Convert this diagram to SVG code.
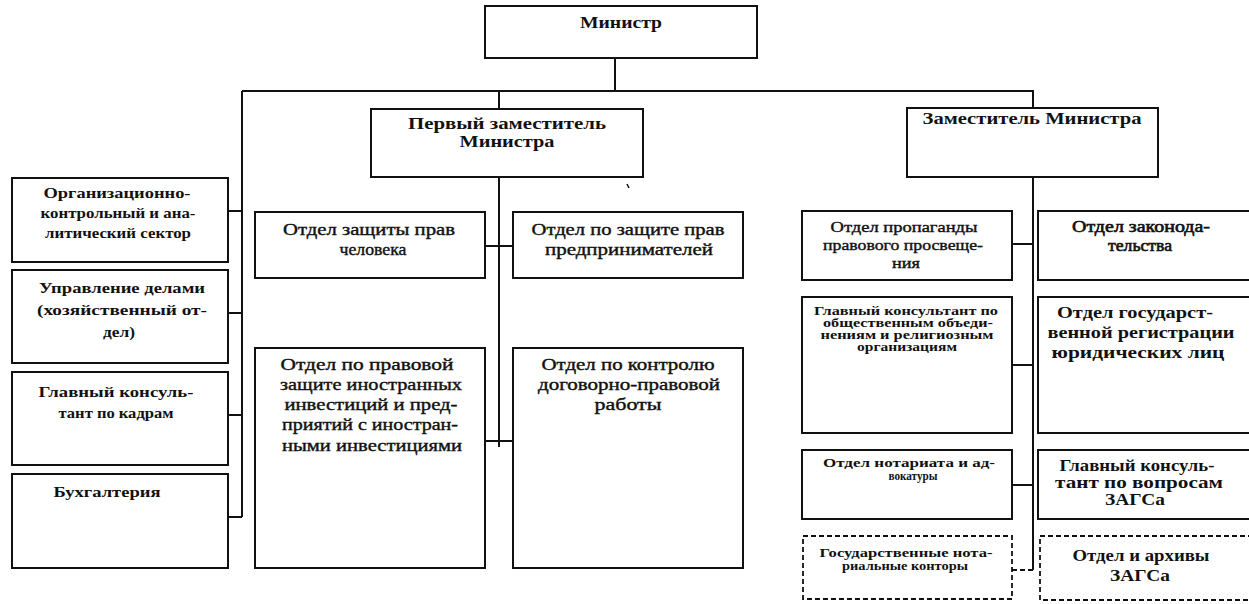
<svg xmlns="http://www.w3.org/2000/svg" width="1249" height="604" viewBox="0 0 1249 604">
<style>
.box{fill:#fff;stroke:#111;stroke-width:2}
.dbox{fill:#fff;stroke:#111;stroke-width:1.8;stroke-dasharray:5 3}
.ln{fill:none;stroke:#111;stroke-width:2}
.dln{fill:none;stroke:#111;stroke-width:1.8;stroke-dasharray:5 3}
text{font-family:"Liberation Serif","DejaVu Serif",serif;fill:#111;text-anchor:middle}
.h{font-size:16px;font-weight:bold}
.b{font-size:15px;font-weight:bold}
.m{font-size:17px;stroke:#111;stroke-width:0.4}
.r{font-size:15px;stroke:#111;stroke-width:0.4}
.rl{font-size:16px;stroke:#111;stroke-width:0.6}
.rb{font-size:17px;font-weight:bold}
.s{font-size:12px;font-weight:bold}
</style>
<rect width="1249" height="604" fill="#fff"/>
<g id="connectors">
<path class="ln" d="M615 58V91M242 91H1033V108M499 91V109M242 91V517M228 211H242M228 313H242M228 415H242M228 517H242"/>
<path class="ln" d="M499 177V447M485 246H513M485 441H513"/>
<path class="ln" d="M1033 177V570M1012 244H1033M1012 365H1033M1012 485H1033"/>
<path class="dln" d="M1012 570H1033"/>
<path d="M627 184l2 4" stroke="#111" stroke-width="1.5"/>
</g>
<g id="minister"><rect class="box" x="485" y="6" width="272" height="52"/><text class="h" x="621" y="28" textLength="82" lengthAdjust="spacingAndGlyphs">Министр</text></g>
<g id="first-deputy"><rect class="box" x="371" y="109" width="272" height="68"/><text class="h" x="507" y="129" textLength="198" lengthAdjust="spacingAndGlyphs">Первый заместитель</text><text class="h" x="507" y="147" textLength="95" lengthAdjust="spacingAndGlyphs">Министра</text></g>
<g id="deputy"><rect class="box" x="907" y="108" width="251" height="69"/><text class="h" x="1032" y="124" textLength="219" lengthAdjust="spacingAndGlyphs">Заместитель Министра</text></g>
<g id="org-sector"><rect class="box" x="12" y="178" width="216" height="84"/><text class="b" x="117" y="198" textLength="147" lengthAdjust="spacingAndGlyphs">Организационно-</text><text class="b" x="118" y="218" textLength="155" lengthAdjust="spacingAndGlyphs">контрольный и ана-</text><text class="b" x="118" y="238" textLength="146" lengthAdjust="spacingAndGlyphs">литический сектор</text></g>
<g id="affairs"><rect class="box" x="12" y="270" width="216" height="93"/><text class="b" x="122" y="293" textLength="166" lengthAdjust="spacingAndGlyphs">Управление делами</text><text class="b" x="122" y="315" textLength="170" lengthAdjust="spacingAndGlyphs">(хозяйственный от-</text><text class="b" x="119" y="337" textLength="32" lengthAdjust="spacingAndGlyphs">дел)</text></g>
<g id="hr"><rect class="box" x="12" y="372" width="216" height="93"/><text class="b" x="116" y="397" textLength="155" lengthAdjust="spacingAndGlyphs">Главный консуль-</text><text class="b" x="116" y="418" textLength="115" lengthAdjust="spacingAndGlyphs">тант по кадрам</text></g>
<g id="accounting"><rect class="box" x="12" y="474" width="216" height="94"/><text class="b" x="107" y="497" textLength="107" lengthAdjust="spacingAndGlyphs">Бухгалтерия</text></g>
<g id="human-rights"><rect class="box" x="255" y="212" width="230" height="66"/><text class="m" x="369" y="235" textLength="172" lengthAdjust="spacingAndGlyphs">Отдел защиты прав</text><text class="m" x="373" y="255" textLength="67" lengthAdjust="spacingAndGlyphs">человека</text></g>
<g id="entrepreneurs"><rect class="box" x="513" y="212" width="230" height="66"/><text class="m" x="628" y="235" textLength="193" lengthAdjust="spacingAndGlyphs">Отдел по защите прав</text><text class="m" x="629" y="255" textLength="168" lengthAdjust="spacingAndGlyphs">предпринимателей</text></g>
<g id="foreign-invest"><rect class="box" x="255" y="348" width="230" height="220"/><text class="m" x="367" y="370" textLength="173" lengthAdjust="spacingAndGlyphs">Отдел по правовой</text><text class="m" x="371" y="390" textLength="182" lengthAdjust="spacingAndGlyphs">защите иностранных</text><text class="m" x="371" y="410" textLength="173" lengthAdjust="spacingAndGlyphs">инвестиций и пред-</text><text class="m" x="370" y="430" textLength="176" lengthAdjust="spacingAndGlyphs">приятий с иностран-</text><text class="m" x="372" y="451" textLength="180" lengthAdjust="spacingAndGlyphs">ными инвестициями</text></g>
<g id="contract-control"><rect class="box" x="513" y="348" width="230" height="220"/><text class="m" x="628" y="370" textLength="173" lengthAdjust="spacingAndGlyphs">Отдел по контролю</text><text class="m" x="629" y="390" textLength="182" lengthAdjust="spacingAndGlyphs">договорно-правовой</text><text class="m" x="628" y="410" textLength="67" lengthAdjust="spacingAndGlyphs">работы</text></g>
<g id="propaganda"><rect class="box" x="802" y="211" width="210" height="69"/><text class="r" x="904" y="232" textLength="147" lengthAdjust="spacingAndGlyphs">Отдел пропаганды</text><text class="r" x="903" y="250" textLength="160" lengthAdjust="spacingAndGlyphs">правового просвеще-</text><text class="r" x="906" y="268" textLength="28" lengthAdjust="spacingAndGlyphs">ния</text></g>
<g id="legislation"><rect class="box" x="1038" y="211" width="214" height="69"/><text class="rl" x="1141" y="232" textLength="138" lengthAdjust="spacingAndGlyphs">Отдел законода-</text><text class="rl" x="1140" y="251" textLength="64" lengthAdjust="spacingAndGlyphs">тельства</text></g>
<g id="religious"><rect class="box" x="802" y="297" width="210" height="136"/><text class="s" x="906" y="315" textLength="184" lengthAdjust="spacingAndGlyphs">Главный консультант по</text><text class="s" x="908" y="327" textLength="170" lengthAdjust="spacingAndGlyphs">общественным объеди-</text><text class="s" x="907" y="339" textLength="173" lengthAdjust="spacingAndGlyphs">нениям и религиозным</text><text class="s" x="907" y="351" textLength="100" lengthAdjust="spacingAndGlyphs">организациям</text></g>
<g id="registration"><rect class="box" x="1038" y="297" width="214" height="136"/><text class="rb" x="1135" y="318" textLength="156" lengthAdjust="spacingAndGlyphs">Отдел государст-</text><text class="rb" x="1141" y="338" textLength="187" lengthAdjust="spacingAndGlyphs">венной регистрации</text><text class="rb" x="1138" y="358" textLength="173" lengthAdjust="spacingAndGlyphs">юридических лиц</text></g>
<g id="notary"><rect class="box" x="802" y="450" width="210" height="69"/><text class="s" x="909" y="467" textLength="172" lengthAdjust="spacingAndGlyphs">Отдел нотариата и ад-</text><text class="s" x="913" y="480" textLength="49" lengthAdjust="spacingAndGlyphs">вокатуры</text></g>
<g id="zags-consultant"><rect class="box" x="1038" y="450" width="214" height="69"/><text class="rb" x="1137" y="471" textLength="155" lengthAdjust="spacingAndGlyphs">Главный консуль-</text><text class="rb" x="1139" y="488" textLength="168" lengthAdjust="spacingAndGlyphs">тант по вопросам</text><text class="rb" x="1135" y="505" textLength="60" lengthAdjust="spacingAndGlyphs">ЗАГСа</text></g>
<g id="state-notary"><rect class="dbox" x="803" y="536" width="209" height="63"/><text class="s" x="906" y="557" textLength="173" lengthAdjust="spacingAndGlyphs">Государственные нота-</text><text class="s" x="905" y="570" textLength="126" lengthAdjust="spacingAndGlyphs">риальные конторы</text></g>
<g id="zags-archives"><rect class="dbox" x="1040" y="536" width="212" height="64"/><text class="rb" x="1141" y="561" textLength="137" lengthAdjust="spacingAndGlyphs">Отдел и архивы</text><text class="rb" x="1140" y="581" textLength="60" lengthAdjust="spacingAndGlyphs">ЗАГСа</text></g>
</svg>
